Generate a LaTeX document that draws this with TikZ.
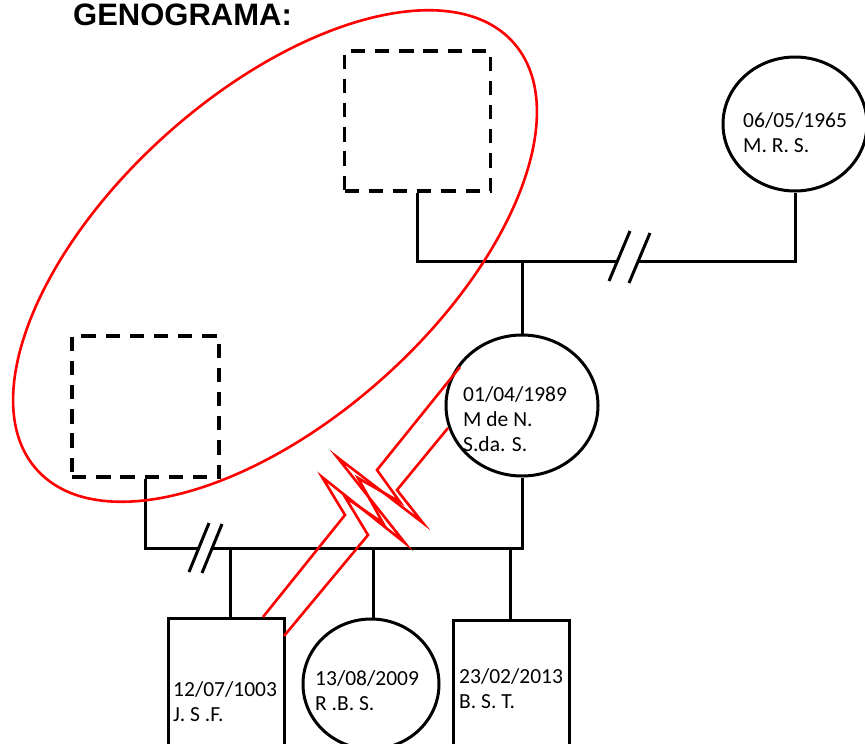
\documentclass[tikz,border=0pt]{standalone}
\usepackage{fontspec}
\setmainfont{Carlito}
\newfontfamily\titlefont{Liberation Sans}
\usetikzlibrary{shapes.geometric}
\tikzset{
  kin/.style={line width=3pt, black},
  femalebox/.style={ellipse, draw, line width=3pt, inner sep=0pt},
  malebox/.style={rectangle, draw, line width=3pt, inner sep=0pt},
  unknownbox/.style={rectangle, draw, line width=3.5pt, dash pattern=on 14.3pt off 9.9pt, inner sep=0pt},
  lbl/.style={anchor=base west, inner sep=0pt, font=\fontsize{21.5}{25}\selectfont},
  hostile/.style={red, line width=2.6pt, line join=miter},
  redring/.style={red, line width=2.6pt},
}
\begin{document}
\begin{tikzpicture}[x=1pt,y=-1pt]
\clip (0,0) rectangle (865,744);
% title
\node[anchor=base west, inner sep=0pt, font=\titlefont\bfseries\fontsize{31}{31}\selectfont] (title) at (73,25) {GENOGRAMA:};
% people
\node[unknownbox, minimum width=146pt, minimum height=140pt] (gf) at (417.5,121) {};
\node[unknownbox, minimum width=147pt, minimum height=141pt] (fa) at (145.5,406.5) {};
\node[femalebox, minimum width=144pt, minimum height=134pt] (gm) at (795,124) {};
\node[femalebox, minimum width=152pt, minimum height=141pt] (mo) at (522,405.5) {};
\node[malebox, minimum width=116pt, minimum height=160pt, anchor=north] (c1) at (226,617) {};
\node[femalebox, minimum width=136pt, minimum height=130pt] (c2) at (371,684) {};
\node[malebox, minimum width=116pt, minimum height=160pt, anchor=north] (c3) at (511,619) {};
% labels
\node[lbl] (gmA) at (743,127.5) {06/05/1965};
\node[lbl] (gmB) at (743,152.5) {M. R. S.};
\node[lbl] (moA) at (463,401.5) {01/04/1989};
\node[lbl] (moB) at (463,426.5) {M de N.};
\node[lbl] (moC) at (463,451.5) {S.da. S.};
\node[lbl] (c1A) at (173,696.5) {12/07/1003};
\node[lbl] (c1B) at (173,721) {J. S .F.};
\node[lbl] (c2A) at (315,685.5) {13/08/2009};
\node[lbl] (c2B) at (315,710) {R .B. S.};
\node[lbl] (c3A) at (459,683.5) {23/02/2013};
\node[lbl] (c3B) at (459,708.5) {B. S. T.};
% grandparents union (divorced)
\coordinate (g1) at (617.4,261);
\coordinate (g2) at (638.2,261);
\coordinate (gpair) at (522,261);
\draw[kin] (gf.south) |- (g1);
\draw[kin] (g2) -| (gm.south);
\draw[kin] (630,231) -- (609,281);
\draw[kin] (650,233) -- (629,283);
\draw[kin] (gpair) -- (mo.north);
% parents union (divorced)
\coordinate (p1) at (199,548);
\coordinate (p2) at (212,548);
\draw[kin] (fa.south) |- (p1);
\draw[kin] (p2) -| (mo.south);
\draw[kin] (209,523) -- (189,572);
\draw[kin] (222,524) -- (202,573);
% children
\coordinate (k1) at (230,548);
\coordinate (k2) at (373,548);
\coordinate (k3) at (510,548);
\draw[kin] (k1) -- (k1 |- c1.north);
\draw[kin] (k2) -- (k2 |- c2.north);
\draw[kin] (k3) -- (k3 |- c3.north);
% red ring
\draw[redring, rotate around={41.9:(275,256)}] (275,256) ellipse [x radius=320pt, y radius=163pt];
% hostile relation
\coordinate (h1s) at (263,617);
\coordinate (h1e) at (448,428);
\coordinate (h2s) at (284,636);
\coordinate (h2e) at (460,367);
\draw[hostile] (h1s) -- (345,515) -- (322,477) -- (405,543) -- (337,457) -- (423,523) -- (397,490) -- (h1e);
\draw[hostile] (h2s) -- (368,535) -- (345,497) -- (383,523) -- (358,478) -- (400,502) -- (377,470) -- (h2e);
\end{tikzpicture}
\end{document}
